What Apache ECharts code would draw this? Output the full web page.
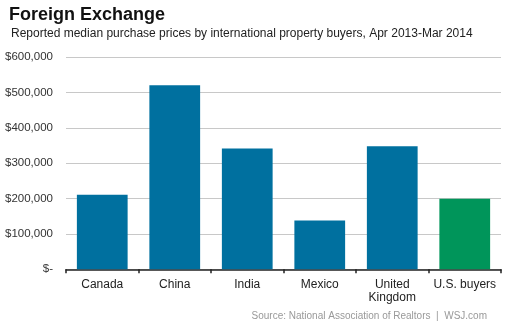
<!DOCTYPE html>
<html>
<head>
<meta charset="utf-8">
<script src="https://cdn.jsdelivr.net/npm/echarts@6/dist/echarts.min.js"></script>
<style>
html,body{margin:0;padding:0;background:#fff;}
#c{width:511px;height:328px;}
</style>
</head>
<body>
<div id="c"></div>
<script>
var categories = ['Canada', 'China', 'India', 'Mexico', 'United\nKingdom', 'U.S. buyers'];
var values = [211000, 521000, 342000, 138000, 348000, 200000];
var barColors = ['#00709f', '#00709f', '#00709f', '#00709f', '#00709f', '#00955a'];
var yTicks = [0, 100000, 200000, 300000, 400000, 500000, 600000];

function fmt(v) {
  if (v === 0) return '$-';
  return '$' + String(v).replace(/\B(?=(\d{3})+(?!\d))/g, ',');
}

var chart = echarts.init(document.getElementById('c'), null, {renderer: 'canvas'});
var FONT = '"Liberation Sans", Arial, sans-serif';
chart.setOption({
  animation: false,
  backgroundColor: '#fff',
  title: [
    {text: 'Foreign Exchange', left: 4, top: 1,
     textStyle: {fontFamily: FONT, fontSize: 18, fontWeight: 'bold', color: '#111'}},
    {text: 'Reported median purchase prices by international property buyers, Apr 2013-Mar 2014', left: 6, top: 23,
     textStyle: {fontFamily: FONT, fontSize: 12, fontWeight: 'normal', color: '#222'}}
  ],
  grid: {left: 66, right: 10, top: 57.3, bottom: 58.7, containLabel: false},
  xAxis: {
    type: 'category',
    data: categories,
    axisLine: {show: true, lineStyle: {color: '#222', width: 1.5}},
    axisTick: {show: true, length: 4, lineStyle: {color: '#222', width: 1.5}},
    axisLabel: {fontFamily: FONT, fontSize: 12, color: '#222', margin: 9, lineHeight: 13, interval: 0}
  },
  yAxis: {
    type: 'value',
    min: yTicks[0], max: yTicks[yTicks.length - 1], interval: yTicks[1] - yTicks[0],
    axisLine: {show: false},
    axisTick: {show: false},
    splitLine: {show: true, lineStyle: {color: '#c8c8c8', width: 1}},
    axisLabel: {fontFamily: FONT, fontSize: 11.5, color: '#333', margin: 13, formatter: fmt}
  },
  series: [{
    type: 'bar',
    data: values.map(function (v, i) { return {value: v, itemStyle: {color: barColors[i]}}; }),
    barWidth: '70%'
  }],
  graphic: [{
    type: 'text', right: 24, top: 311,
    style: {text: 'Source: National Association of Realtors  |  WSJ.com', fill: '#999', fontFamily: FONT, fontSize: 10}
  }]
});
</script>
</body>
</html>
